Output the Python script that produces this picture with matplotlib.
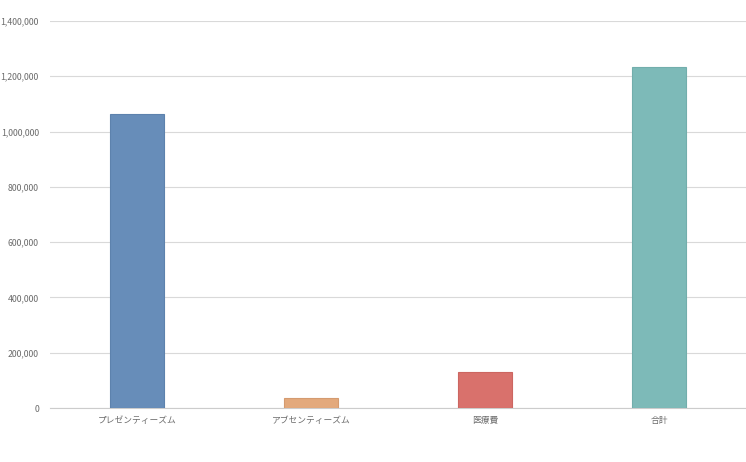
import matplotlib
matplotlib.use("Agg")
import matplotlib.pyplot as plt
from matplotlib.ticker import FuncFormatter

plt.rcParams['font.family'] = ['Noto Sans CJK JP', 'DejaVu Sans']

categories = ["プレゼンティーズム", "アブセンティーズム", "医療費", "合計"]
values = [1065000, 37000, 131000, 1233000]
colors = ["#678db9", "#e3a97c", "#d9716c", "#7dbab8"]
edges = ["#5d82ad", "#d49b70", "#cc6661", "#72aeac"]

fig = plt.figure(figsize=(7.46, 4.62), dpi=100)
ax = fig.add_axes([50/746, 54/462, 696/746, 387/462])
x = range(len(categories))
ax.bar(x, values, width=0.31, color=colors, edgecolor=edges, linewidth=0.8, zorder=3)
ax.set_xlim(-0.5, 3.5)
ax.set_ylim(0, 1400000)
ax.set_yticks(range(0, 1400001, 200000))
ax.yaxis.set_major_formatter(FuncFormatter(lambda v, p: f"{int(v):,}"))
ax.set_xticks(list(x))
ax.set_xticklabels(categories)
ax.grid(axis='y', color='#d9d9d9', linewidth=0.8, zorder=0)
for s in ['top', 'right', 'left']:
    ax.spines[s].set_visible(False)
ax.spines['bottom'].set_color('#cccccc')
ax.spines['bottom'].set_linewidth(0.8)
ax.tick_params(axis='both', length=0, labelsize=6.3, colors='#6b6b6b')
ax.tick_params(axis='y', pad=8)
ax.tick_params(axis='x', pad=6)
fig.savefig("out.png", dpi=100, facecolor='white')
